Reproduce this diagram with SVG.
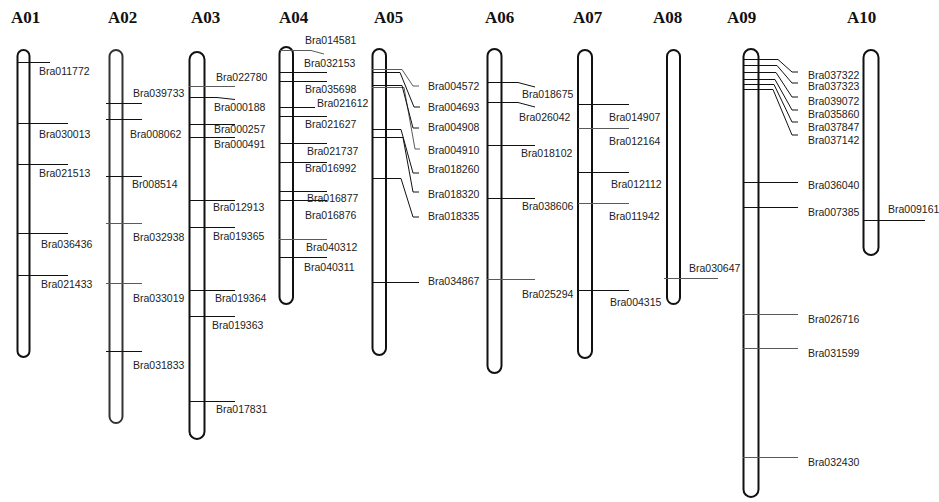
<svg xmlns="http://www.w3.org/2000/svg" width="939" height="502" viewBox="0 0 939 502">
<style>
.title{font-family:"Liberation Serif","Times New Roman",serif;font-weight:bold;font-size:17px;fill:#111}
.lbl{font-family:"Liberation Sans",Arial,sans-serif;font-size:10.5px;fill:#222}
.chr{fill:#fff;stroke:#111;stroke-width:2}
.t{stroke:#111;stroke-width:1;fill:none}
.g{stroke:#5a5a5a;stroke-width:1;fill:none}
</style>
<rect width="939" height="502" fill="#fff"/>
<g id="titles">
<text class="title" x="11" y="23">A01</text>
<text class="title" x="108" y="23">A02</text>
<text class="title" x="191" y="23">A03</text>
<text class="title" x="279" y="23">A04</text>
<text class="title" x="374" y="23">A05</text>
<text class="title" x="485" y="23">A06</text>
<text class="title" x="573" y="23">A07</text>
<text class="title" x="653" y="23">A08</text>
<text class="title" x="727" y="23">A09</text>
<text class="title" x="847" y="23">A10</text>
</g>
<g id="chromosomes">
<rect id="A01" class="chr" x="17.5" y="50" width="12" height="307" rx="6"/>
<rect id="A02" class="chr" x="109.5" y="50" width="13" height="373" rx="6.5" style="stroke:#333"/>
<rect id="A03" class="chr" x="189.5" y="52" width="15" height="387" rx="7.5"/>
<rect id="A04" class="chr" x="279.5" y="47" width="13.5" height="257" rx="6.75"/>
<rect id="A05" class="chr" x="372.5" y="49" width="13.5" height="306" rx="6.75"/>
<rect id="A06" class="chr" x="487.5" y="49" width="14" height="324" rx="7"/>
<rect id="A07" class="chr" x="578" y="50" width="14" height="308" rx="7"/>
<rect id="A08" class="chr" x="667" y="50" width="13" height="254" rx="6.5"/>
<rect id="A09" class="chr" x="743.5" y="49" width="15" height="448" rx="7.5"/>
<rect id="A10" class="chr" x="863.5" y="50" width="15" height="205" rx="7.5"/>
</g>
<g id="connectors">
<!-- A01 -->
<path class="t" d="M17 62.5H50M17 123.5H68M17 164.5H68M17 233.5H68M17 275.5H68"/>
<!-- A02 -->
<path class="t" d="M106 103.5H142M106 119.5H142M106 176.5H142M106 351.5H142"/>
<path class="g" d="M106 223.5H142M106 283.5H142"/>
<!-- A03 -->
<path class="g" d="M189 86.5H235"/>
<path class="t" d="M189 97.5H217L235 99.5M189 124.5H235M189 137.5H235M189 200.5H235M189 227.5H235M189 290.5H235M189 316.5H235M189 401.5H235"/>
<!-- A04 -->
<path class="g" d="M280 50.5H311L324 54"/>
<path class="t" d="M279 72.5H327M279 81.5H327M279 107.5H315M279 116.5H327M279 143.5H327M279 162.5H327M279 191.5H327M279 200.5H327M279 257.5H327"/>
<path class="g" d="M279 239.5H327"/>
<!-- A05 -->
<path class="g" d="M372 69.5H402L413 86H419M372 87.5H404L415 149H420"/>
<path class="t" d="M372 72.5H400L414 107H420M372 85.5H402L413 128H419M372 129.5H401L413 173H419M372 137.5H403L413 192H419M372 178.5H401L413 217H419M372 282.5H419"/>
<!-- A06 -->
<path class="t" d="M487 82.5H518L535 87M487 102.5H518L535 107M487 145.5H535M487 198.5H535"/>
<path class="g" d="M487 279.5H535"/>
<!-- A07 -->
<path class="t" d="M578 104.5H629M578 172.5H629M578 290.5H629"/>
<path class="g" d="M578 128.5H629M578 203.5H629"/>
<!-- A08 -->
<path class="g" d="M664 278.5H718"/>
<!-- A09 -->
<path class="t" d="M743 59.5H778L792 72H798M743 65.5H777L792 83H798M743 72.5H776L792 97H798M743 79.5H775L792 110H798M743 84.5H774L792 122H798M743 89.5H773L792 135H798M743 182.5H798M743 207.5H798"/>
<path class="g" d="M743 314.5H798M743 348.5H798M743 457.5H798"/>
<!-- A10 -->
<path class="t" d="M863 220.5H925"/>
</g>
<g id="labels">
<text class="lbl" x="39" y="75">Bra011772</text>
<text class="lbl" x="39" y="138">Bra030013</text>
<text class="lbl" x="39" y="177">Bra021513</text>
<text class="lbl" x="41" y="248">Bra036436</text>
<text class="lbl" x="41" y="288">Bra021433</text>

<text class="lbl" x="133" y="97">Bra039733</text>
<text class="lbl" x="130" y="138">Bra008062</text>
<text class="lbl" x="132" y="188">Br008514</text>
<text class="lbl" x="133" y="241">Bra032938</text>
<text class="lbl" x="133" y="302">Bra033019</text>
<text class="lbl" x="133" y="369">Bra031833</text>

<text class="lbl" x="216" y="81">Bra022780</text>
<text class="lbl" x="214" y="111">Bra000188</text>
<text class="lbl" x="214" y="133">Bra000257</text>
<text class="lbl" x="214" y="148">Bra000491</text>
<text class="lbl" x="213" y="211">Bra012913</text>
<text class="lbl" x="213" y="240">Bra019365</text>
<text class="lbl" x="215" y="302">Bra019364</text>
<text class="lbl" x="212" y="329">Bra019363</text>
<text class="lbl" x="216" y="413">Bra017831</text>

<text class="lbl" x="305" y="44">Bra014581</text>
<text class="lbl" x="304" y="67">Bra032153</text>
<text class="lbl" x="305" y="93">Bra035698</text>
<text class="lbl" x="317" y="107">Bra021612</text>
<text class="lbl" x="305" y="128">Bra021627</text>
<text class="lbl" x="307" y="155">Bra021737</text>
<text class="lbl" x="305" y="172">Bra016992</text>
<text class="lbl" x="307" y="202">Bra016877</text>
<text class="lbl" x="305" y="219">Bra016876</text>
<text class="lbl" x="306" y="251">Bra040312</text>
<text class="lbl" x="304" y="271">Bra040311</text>

<text class="lbl" x="428" y="90">Bra004572</text>
<text class="lbl" x="428" y="111">Bra004693</text>
<text class="lbl" x="428" y="131">Bra004908</text>
<text class="lbl" x="428" y="154">Bra004910</text>
<text class="lbl" x="428" y="173">Bra018260</text>
<text class="lbl" x="428" y="198">Bra018320</text>
<text class="lbl" x="428" y="220">Bra018335</text>
<text class="lbl" x="428" y="285">Bra034867</text>

<text class="lbl" x="522" y="98">Bra018675</text>
<text class="lbl" x="519" y="121">Bra026042</text>
<text class="lbl" x="521" y="157">Bra018102</text>
<text class="lbl" x="522" y="210">Bra038606</text>
<text class="lbl" x="522" y="298">Bra025294</text>

<text class="lbl" x="609" y="121">Bra014907</text>
<text class="lbl" x="609" y="145">Bra012164</text>
<text class="lbl" x="611" y="188">Bra012112</text>
<text class="lbl" x="609" y="220">Bra011942</text>
<text class="lbl" x="610" y="306">Bra004315</text>

<text class="lbl" x="689" y="272">Bra030647</text>

<text class="lbl" x="808" y="79">Bra037322</text>
<text class="lbl" x="808" y="90">Bra037323</text>
<text class="lbl" x="808" y="105">Bra039072</text>
<text class="lbl" x="808" y="118">Bra035860</text>
<text class="lbl" x="808" y="131">Bra037847</text>
<text class="lbl" x="808" y="144">Bra037142</text>
<text class="lbl" x="808" y="189">Bra036040</text>
<text class="lbl" x="808" y="216">Bra007385</text>
<text class="lbl" x="808" y="323">Bra026716</text>
<text class="lbl" x="808" y="357">Bra031599</text>
<text class="lbl" x="808" y="466">Bra032430</text>

<text class="lbl" x="888" y="213">Bra009161</text>
</g>
</svg>
